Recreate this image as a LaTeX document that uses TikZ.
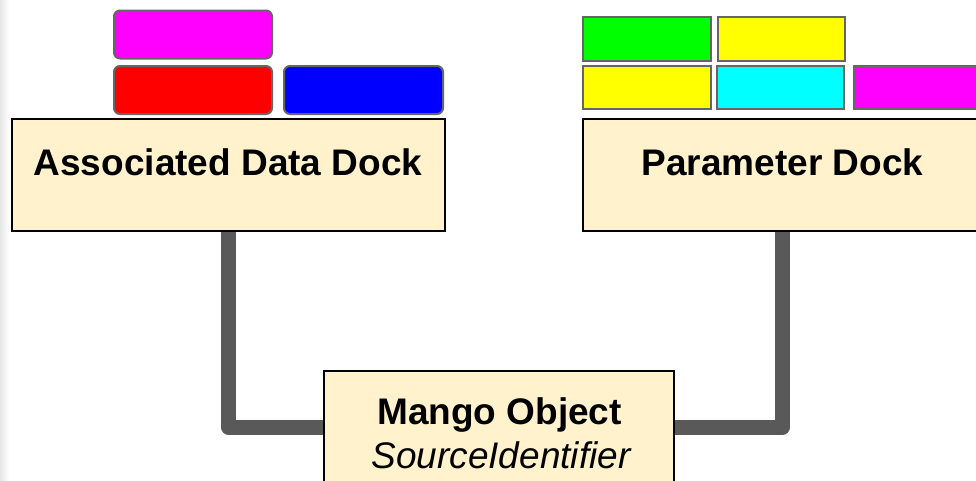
\documentclass[tikz,border=0pt]{standalone}
\usepackage{fontspec}
\setmainfont{Liberation Sans}
\usetikzlibrary{backgrounds}
\begin{document}
\begin{tikzpicture}[x=1pt,y=-1pt,
  dockbox/.style={draw=black, line width=2.5pt, fill=dockfill, inner sep=0pt, minimum height=112pt},
  objbox/.style={draw=black, line width=2pt, fill=dockfill, inner sep=0pt, minimum height=112pt},
  docklabel/.style={font=\fontsize{37}{44}\selectfont\bfseries, inner sep=0pt, anchor=base},
  objlabel/.style={font=\fontsize{37}{44}\selectfont, inner sep=0pt, anchor=base},
  chip/.style={draw=chipedge, line width=2pt, inner sep=0pt},
  roundchip/.style={chip, rounded corners=6pt, minimum width=158pt, minimum height=48pt},
  flatchip/.style={chip, minimum width=127pt, minimum height=43pt},
  link/.style={draw=linkgray, line width=15pt, line join=round}
]
\definecolor{dockfill}{HTML}{FFF2CC}
\definecolor{chipedge}{HTML}{666666}
\definecolor{linkgray}{HTML}{595959}
\definecolor{shadegray}{HTML}{E6E6E6}
\definecolor{chipmagenta}{HTML}{FF00FF}
\definecolor{chipred}{HTML}{FF0000}
\definecolor{chipblue}{HTML}{0000FF}
\definecolor{chipgreen}{HTML}{00FF00}
\definecolor{chipyellow}{HTML}{FFFF00}
\definecolor{chipcyan}{HTML}{00FFFF}

\useasboundingbox (0,0) rectangle (976,480);

% docks and the object they attach to
\node[dockbox, minimum width=433pt] (adock) at (228.5,175) {};
\node[dockbox, minimum width=399pt] (pdock) at (782.5,175) {};
\node[objbox, minimum width=350pt] (mango) at (499,427) {};

\node[docklabel] (adlabel) at (228,175) {Associated Data Dock};
\node[docklabel] (pdlabel) at (782.5,175) {Parameter Dock};
\node[docklabel] (mlabel) at (499.5,424) {Mango Object};
\node[objlabel] (slabel) at (501,468) {\itshape SourceIdentifier};

% page, edge shading and connectors sit behind the boxes
\begin{pgfonlayer}{background}
  \fill[white] (0,0) rectangle (976,480);
  \shade[left color=shadegray, right color=white] (0,0) rectangle (9,480);
  \path[link] (adock.south) |- (mango.west);
  \path[link] (pdock.south) |- (mango.east);
\end{pgfonlayer}

% associated data chips
\node[roundchip, fill=chipmagenta] (am) at (193,34.5) {};
\node[roundchip, fill=chipred] (ar) at (193,90) {};
\node[roundchip, fill=chipblue, minimum width=159pt] (ab) at (363.5,90) {};

% parameter chips
\node[flatchip, fill=chipgreen, minimum width=128pt, minimum height=44pt] (pg) at (647,39) {};
\node[flatchip, fill=chipyellow, minimum height=44pt] (py1) at (781.5,39) {};
\node[flatchip, fill=chipyellow, minimum width=128pt] (py2) at (647,87.5) {};
\node[flatchip, fill=chipcyan] (pc) at (780.5,87.5) {};
\node[flatchip, fill=chipmagenta] (pm) at (917.5,87.5) {};
\end{tikzpicture}
\end{document}
